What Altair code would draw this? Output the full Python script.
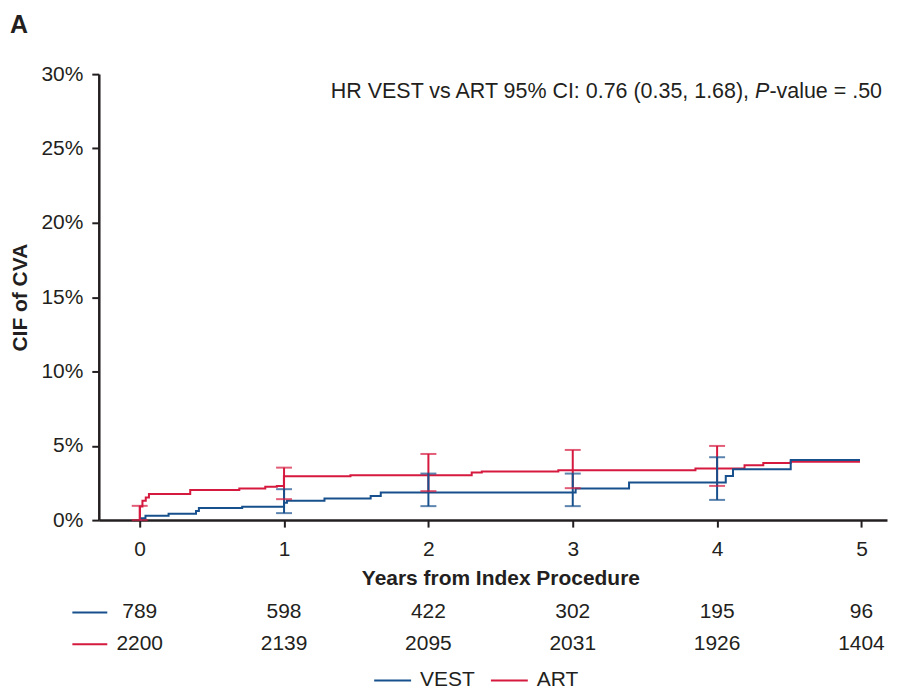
import altair as alt
import pandas as pd

BLUE = "#17508c"
RED = "#d5193f"
INK = "#231f20"
FONT = "Liberation Sans"

# ---- cumulative incidence curves (years, %) ----
vest_t = [0.0, 0.01, 0.04, 0.20, 0.39, 0.41, 0.71, 1.00, 1.02, 1.28, 1.60, 1.67, 3.02, 3.39, 4.06, 4.11, 4.51, 4.99]
vest_v = [0.0, 0.13, 0.29, 0.43, 0.62, 0.81, 0.90, 1.16, 1.30, 1.45, 1.63, 1.86, 2.12, 2.53, 2.97, 3.42, 4.05, 4.05]

art_t = [0.0, 0.002, 0.019, 0.042, 0.064, 0.35, 0.69, 0.87, 0.95, 0.999, 1.46, 2.30, 2.37, 2.90, 3.85, 4.19, 4.32, 4.51, 4.99]
art_v = [0.0, 0.92, 1.30, 1.52, 1.75, 2.03, 2.12, 2.24, 2.30, 2.95, 3.02, 3.20, 3.27, 3.36, 3.47, 3.69, 3.85, 3.92, 3.92]

# ---- 95% CI bars ----
vest_ci_t = [1, 2, 3, 4]
vest_ci_lo = [0.47, 0.94, 0.94, 1.36]
vest_ci_hi = [2.08, 3.13, 3.13, 4.23]

art_ci_t = [0, 1, 2, 3, 4]
art_ci_lo = [0.0, 1.41, 1.95, 2.15, 2.30]
art_ci_hi = [0.96, 3.53, 4.45, 4.72, 4.99]

# ---- numbers at risk ----
risk_t = [0, 1, 2, 3, 4, 5]
vest_n = [789, 598, 422, 302, 195, 96]
art_n = [2200, 2139, 2095, 2031, 1926, 1404]

series = ["VEST", "ART"]
x_ticks = [0, 1, 2, 3, 4, 5]
y_ticks = [0, 5, 10, 15, 20, 25, 30]

curves = pd.concat([
    pd.DataFrame({"series": "ART", "t": art_t, "v": art_v, "o": 0}),
    pd.DataFrame({"series": "VEST", "t": vest_t, "v": vest_v, "o": 1}),
])
ci = pd.concat([
    pd.DataFrame({"series": "ART", "t": art_ci_t, "lo": art_ci_lo, "hi": art_ci_hi, "o": 0}),
    pd.DataFrame({"series": "VEST", "t": vest_ci_t, "lo": vest_ci_lo, "hi": vest_ci_hi, "o": 1}),
])
risk = pd.concat([
    pd.DataFrame({"row": "VEST", "t": risk_t, "n": vest_n}),
    pd.DataFrame({"row": "ART", "t": risk_t, "n": art_n}),
])

W, H = 790, 447
xscale = alt.Scale(domain=[-0.2834, 5.177], nice=False, zero=False)
yscale = alt.Scale(domain=[0, 30], nice=False)
color = alt.Color(
    "series:N",
    scale=alt.Scale(domain=series, range=[BLUE, RED]),
    legend=alt.Legend(
        title=None, orient="none", direction="horizontal",
        legendX=275, legendY=588,
        symbolType="stroke", symbolSize=1369, symbolStrokeWidth=2,
        labelFontSize=21, labelColor=INK, labelOffset=8, columnPadding=12,
    ),
)

xaxis = alt.Axis(
    values=x_ticks, format="d", title="Years from Index Procedure",
    titleFontSize=21, titleFontWeight="bold", titleColor=INK, titlePadding=9,
    titleX=402.5,
    labelFontSize=21, labelColor=INK, labelPadding=11,
    tickSize=7, tickWidth=2, tickColor=INK, domainColor=INK, domainWidth=2.5,
    grid=False,
)
yaxis = alt.Axis(
    values=y_ticks, labelExpr="datum.value + '%'", title="CIF of CVA",
    titleFontSize=21, titleFontWeight="bold", titleColor=INK, titlePadding=10,
    labelFontSize=21, labelColor=INK, labelPadding=9,
    tickSize=7, tickWidth=2, tickColor=INK, domainColor=INK, domainWidth=2.5,
    grid=False,
)

lines = alt.Chart(curves).mark_line(interpolate="step-after", strokeWidth=2).encode(
    x=alt.X("t:Q", scale=xscale, axis=xaxis),
    y=alt.Y("v:Q", scale=yscale, axis=yaxis),
    color=color,
    order="o:Q",
)
bars = alt.Chart(ci).mark_rule(strokeWidth=2).encode(
    x="t:Q", y="lo:Q", y2="hi:Q",
    color=alt.Color("series:N", legend=None),
)
cap_lo = alt.Chart(ci).mark_tick(orient="horizontal", size=16, thickness=2).encode(
    x="t:Q", y="lo:Q", color=alt.Color("series:N", legend=None),
)
cap_hi = alt.Chart(ci).mark_tick(orient="horizontal", size=16, thickness=2).encode(
    x="t:Q", y="hi:Q", color=alt.Color("series:N", legend=None),
)

FS = 21.5
ann_right = 785
ann_y = 23.5
ann1 = alt.Chart(pd.DataFrame({"s": ["-value = .50"]})).mark_text(
    align="right", baseline="alphabetic", fontSize=FS, color=INK
).encode(text="s:N", x=alt.value(ann_right), y=alt.value(ann_y))
ann2 = alt.Chart(pd.DataFrame({"s": ["P"]})).mark_text(
    align="right", baseline="alphabetic", fontSize=FS, fontStyle="italic", color=INK
).encode(text="s:N", x=alt.value(ann_right - 5.253 * FS), y=alt.value(ann_y))
ann3 = alt.Chart(pd.DataFrame({"s": ["HR VEST vs ART 95% CI: 0.76 (0.35, 1.68),"]})).mark_text(
    align="right", baseline="alphabetic", fontSize=FS, color=INK
).encode(text="s:N", x=alt.value(ann_right - (5.253 + 0.667 + 0.278) * FS), y=alt.value(ann_y))

main = alt.layer(lines, bars, cap_lo, cap_hi, ann1, ann2, ann3).properties(width=W, height=H)

table = alt.Chart(risk).mark_text(fontSize=21, color=INK).encode(
    x=alt.X("t:Q", scale=xscale, axis=None),
    y=alt.Y("row:N", sort=series, axis=alt.Axis(
        title=None, labels=False, domain=False, ticks=True, tickSize=35, tickWidth=2,
        tickColor={"condition": {"test": "datum.value === 'VEST'", "value": BLUE}, "value": RED},
        offset=-8, grid=False,
    )),
    text="n:Q",
).properties(width=W, height=64)

chart = alt.vconcat(main, table, spacing=7).properties(
    title=alt.TitleParams("A", anchor="start", fontSize=25, fontWeight="bold", color=INK,
                          frame="bounds", offset=25.5),
    padding={"left": 1, "top": 3.5, "right": 2, "bottom": 0},
).configure(font=FONT).configure_view(stroke=None)

chart.save("out.html", embed_options={"renderer": "svg", "actions": False})
